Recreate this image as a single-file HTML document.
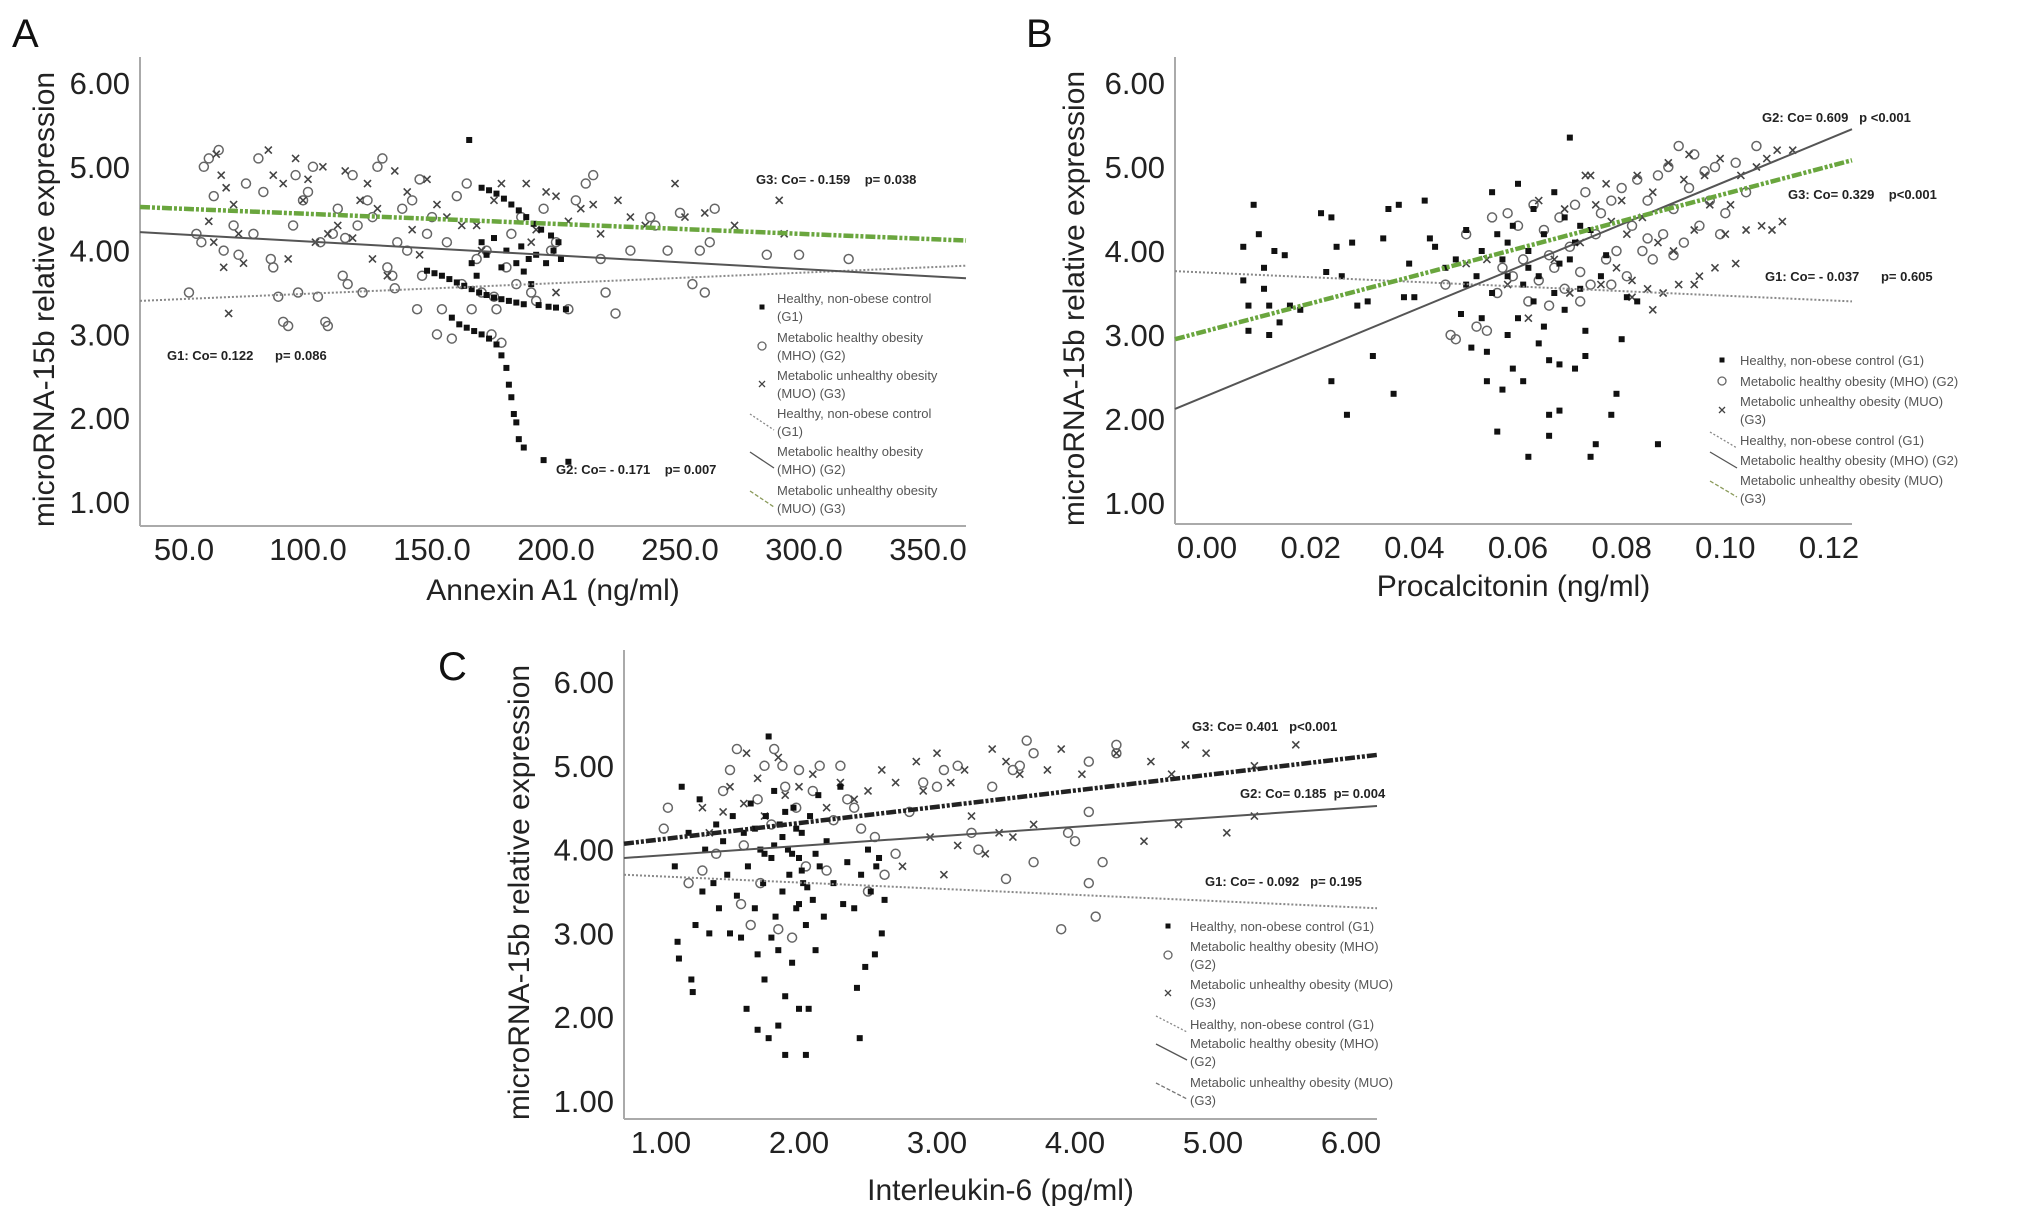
<!DOCTYPE html>
<html><head><meta charset="utf-8">
<style>
html,body{margin:0;padding:0;background:#fff;}
svg{display:block;font-family:"Liberation Sans",sans-serif;}
.tick{font-size:31px;fill:#222;}
.ttl{font-size:30px;fill:#222;}
.leg{font-size:13px;fill:#555;}
.ann{font-size:13px;font-weight:bold;fill:#222;font-family:"Liberation Sans Narrow","Liberation Sans",sans-serif;white-space:pre;}
.lab{font-size:40px;fill:#111;}
</style></head>
<body>
<svg id="fig" width="2032" height="1222" viewBox="0 0 2032 1222" xmlns="http://www.w3.org/2000/svg"></svg>
<script>
// ---------- Panel A data (Annexin A1) ----------
const aXTicks=[50,100,150,200,250,300,350];
const aXTickLabels=["50.0","100.0","150.0","200.0","250.0","300.0","350.0"];
const yTicks=[1,2,3,4,5,6];
const yTickLabels=["1.00","2.00","3.00","4.00","5.00","6.00"];
const aG1=[[165,5.32],[170,4.75],[173,4.72],[176,4.68],[179,4.62],[182,4.55],[185,4.48],[188,4.4],[191,4.32],[194,4.25],[198,4.18],[201,4.1],[148,3.76],[151,3.73],[154,3.7],[157,3.66],[160,3.62],[163,3.58],[166,3.54],[169,3.5],[172,3.47],[175,3.44],[178,3.42],[181,3.4],[184,3.38],[187,3.36],[158,3.2],[161,3.12],[164,3.08],[167,3.04],[170,3.0],[173,2.95],[176,2.88],[178,2.75],[180,2.6],[181,2.4],[182,2.25],[183,2.05],[184,1.95],[185,1.75],[187,1.65],[195,1.5],[205,1.48],[170,4.1],[172,3.95],[175,4.15],[178,3.8],[180,4.0],[184,3.85],[186,4.05],[189,3.9],[192,3.95],[196,3.85],[199,4.0],[202,3.9],[193,3.35],[197,3.33],[200,3.32],[204,3.3],[166,3.85],[168,3.7],[190,3.6],[187,3.75]];
const aG2=[[55,4.2],[57,4.1],[58,5.0],[60,5.1],[62,4.65],[64,5.2],[66,4.0],[52,3.5],[78,4.2],[80,5.1],[82,4.7],[85,3.9],[86,3.8],[88,3.45],[90,3.15],[92,3.1],[94,4.3],[96,3.5],[98,4.6],[100,4.7],[102,5.0],[104,3.45],[105,4.1],[107,3.15],[108,3.1],[110,4.2],[112,4.5],[114,3.7],[116,3.6],[118,4.9],[120,4.3],[122,3.5],[124,4.6],[126,4.4],[128,5.0],[130,5.1],[132,3.8],[134,3.7],[136,4.1],[138,4.5],[140,4.0],[142,4.6],[144,3.3],[146,3.7],[148,4.2],[150,4.4],[152,3.0],[154,3.3],[156,4.1],[158,2.95],[160,4.65],[162,3.6],[164,4.8],[166,3.3],[168,3.9],[170,3.5],[172,4.0],[174,3.0],[176,3.3],[178,2.9],[180,3.8],[182,4.2],[184,3.6],[186,4.4],[190,3.5],[192,3.4],[195,4.5],[198,4.0],[200,4.1],[205,3.3],[208,4.6],[212,4.8],[215,4.9],[218,3.9],[220,3.5],[224,3.25],[230,4.0],[238,4.4],[240,4.3],[245,4.0],[250,4.45],[255,3.6],[258,4.0],[260,3.5],[262,4.1],[264,4.5],[285,3.95],[298,3.95],[318,3.9],[70,4.3],[72,3.95],[75,4.8],[95,4.9],[115,4.15],[135,3.55],[145,4.85],[175,3.45]];
const aG3=[[60,4.35],[62,4.1],[63,5.15],[65,4.9],[66,3.8],[67,4.75],[68,3.25],[70,4.55],[72,4.2],[74,3.85],[84,5.2],[86,4.9],[90,4.8],[92,3.9],[95,5.1],[98,4.6],[100,4.85],[103,4.1],[106,5.0],[108,4.2],[112,4.3],[115,4.95],[118,4.15],[121,4.6],[124,4.8],[126,3.9],[128,4.5],[132,3.7],[135,4.95],[140,4.7],[142,4.25],[145,3.95],[148,4.85],[152,4.55],[156,4.4],[162,4.3],[168,4.3],[175,4.6],[178,4.8],[188,4.8],[192,4.25],[196,4.7],[200,4.65],[205,4.35],[210,4.5],[215,4.55],[218,4.2],[225,4.6],[230,4.4],[236,4.3],[248,4.8],[252,4.4],[260,4.45],[272,4.3],[290,4.6],[292,4.2],[170,4.0],[190,4.1],[200,3.5]];
// ---------- Panel B data (Procalcitonin) ----------
const bXTicks=[0,0.02,0.04,0.06,0.08,0.10,0.12];
const bXTickLabels=["0.00","0.02","0.04","0.06","0.08","0.10","0.12"];
const bG1=[[0.007,4.05],[0.007,3.65],[0.008,3.35],[0.008,3.05],[0.009,4.55],[0.010,4.2],[0.011,3.8],[0.011,3.55],[0.012,3.35],[0.012,3.0],[0.013,4.0],[0.014,3.15],[0.015,3.95],[0.016,3.35],[0.018,3.3],[0.022,4.45],[0.023,3.75],[0.024,4.4],[0.024,2.45],[0.025,4.05],[0.026,3.7],[0.027,2.05],[0.028,4.1],[0.029,3.35],[0.031,3.4],[0.032,2.75],[0.034,4.15],[0.035,4.5],[0.036,2.3],[0.037,4.55],[0.038,3.45],[0.039,3.85],[0.040,3.45],[0.042,4.6],[0.043,4.15],[0.044,4.05],[0.046,3.8],[0.048,3.9],[0.049,3.25],[0.050,4.25],[0.050,3.6],[0.051,2.85],[0.052,3.7],[0.053,3.2],[0.053,4.0],[0.054,2.8],[0.054,2.45],[0.055,4.7],[0.055,3.5],[0.056,1.85],[0.056,4.2],[0.057,3.9],[0.057,2.35],[0.058,3.0],[0.058,3.7],[0.059,2.6],[0.059,4.3],[0.060,4.8],[0.060,3.2],[0.061,2.45],[0.061,3.6],[0.062,1.55],[0.062,4.0],[0.063,3.4],[0.063,4.5],[0.064,2.9],[0.064,3.7],[0.065,4.2],[0.065,3.1],[0.066,2.7],[0.066,1.8],[0.066,2.05],[0.067,4.7],[0.067,3.5],[0.068,2.1],[0.068,2.65],[0.069,4.4],[0.069,3.3],[0.070,5.35],[0.070,3.9],[0.071,2.6],[0.071,4.1],[0.072,3.55],[0.073,3.05],[0.073,2.75],[0.074,1.55],[0.074,4.25],[0.075,1.7],[0.076,3.7],[0.077,3.95],[0.078,2.05],[0.079,2.3],[0.080,2.95],[0.081,3.45],[0.083,3.4],[0.087,1.7],[0.058,4.1],[0.062,3.8],[0.068,3.85],[0.072,4.3]];
const bG2=[[0.046,3.6],[0.047,3.0],[0.048,2.95],[0.050,4.2],[0.052,3.1],[0.054,3.05],[0.055,4.4],[0.056,3.5],[0.057,3.8],[0.058,4.45],[0.059,3.7],[0.060,4.3],[0.061,3.9],[0.062,3.4],[0.063,4.55],[0.064,3.65],[0.065,4.25],[0.066,3.35],[0.067,3.8],[0.068,4.4],[0.069,3.55],[0.070,4.05],[0.071,4.55],[0.072,3.75],[0.073,4.7],[0.074,3.6],[0.075,4.2],[0.076,4.45],[0.077,3.9],[0.078,4.6],[0.079,4.0],[0.080,4.75],[0.081,3.7],[0.082,4.3],[0.083,4.85],[0.084,4.0],[0.085,4.6],[0.086,3.9],[0.087,4.9],[0.088,4.2],[0.089,5.0],[0.090,4.5],[0.091,5.25],[0.092,4.1],[0.093,4.75],[0.094,5.15],[0.095,4.3],[0.096,4.95],[0.097,4.6],[0.098,5.0],[0.099,4.2],[0.100,4.45],[0.102,5.05],[0.104,4.7],[0.106,5.25],[0.090,3.95],[0.085,4.15],[0.078,3.6],[0.072,3.4],[0.066,3.95]];
const bG3=[[0.050,3.85],[0.054,3.9],[0.058,3.6],[0.062,3.2],[0.064,4.6],[0.067,3.9],[0.069,4.5],[0.070,3.5],[0.072,4.1],[0.073,4.9],[0.074,4.9],[0.075,4.55],[0.076,3.6],[0.077,4.8],[0.078,4.35],[0.079,3.8],[0.080,4.6],[0.081,4.2],[0.082,3.65],[0.083,4.9],[0.084,4.4],[0.085,3.55],[0.086,4.7],[0.087,4.1],[0.088,3.5],[0.089,5.05],[0.090,4.0],[0.091,3.6],[0.092,4.85],[0.093,5.15],[0.094,4.25],[0.095,3.7],[0.096,4.9],[0.097,4.55],[0.098,3.8],[0.099,5.1],[0.100,4.2],[0.101,4.55],[0.102,3.85],[0.103,4.9],[0.104,4.25],[0.106,5.0],[0.107,4.3],[0.108,5.1],[0.109,4.25],[0.110,5.2],[0.111,4.35],[0.113,5.2],[0.082,3.45],[0.086,3.3],[0.094,3.6]];
// ---------- Panel C data (Interleukin-6) ----------
const cXTicks=[1,2,3,4,5,6];
const cXTickLabels=["1.00","2.00","3.00","4.00","5.00","6.00"];
const cG1=[[1.1,3.8],[1.12,2.9],[1.13,2.7],[1.15,4.75],[1.2,4.2],[1.22,2.45],[1.23,2.3],[1.25,3.1],[1.28,4.6],[1.3,3.5],[1.32,4.0],[1.35,3.0],[1.38,3.6],[1.4,4.3],[1.42,3.3],[1.45,4.1],[1.48,3.7],[1.5,3.0],[1.52,4.4],[1.55,3.45],[1.58,2.95],[1.6,4.2],[1.62,2.1],[1.63,3.8],[1.65,4.55],[1.68,3.3],[1.7,1.85],[1.7,2.75],[1.72,4.0],[1.74,3.6],[1.75,2.45],[1.76,4.4],[1.78,5.35],[1.78,1.75],[1.8,3.9],[1.8,2.95],[1.82,4.7],[1.83,3.2],[1.85,1.9],[1.85,2.8],[1.86,4.3],[1.88,3.5],[1.9,1.55],[1.9,2.25],[1.92,4.0],[1.93,3.7],[1.95,2.65],[1.96,4.5],[1.98,3.3],[2.0,2.1],[2.0,3.9],[2.02,4.2],[2.03,3.6],[2.05,1.55],[2.05,3.1],[2.07,2.1],[2.08,4.4],[2.1,3.4],[2.12,2.8],[2.14,4.65],[2.15,3.8],[2.18,3.2],[2.2,4.1],[2.25,3.6],[2.3,4.75],[2.32,3.35],[2.35,3.85],[2.4,3.3],[2.42,2.35],[2.44,1.75],[2.45,3.7],[2.48,2.6],[2.5,4.0],[2.52,3.5],[2.55,2.75],[2.58,3.9],[2.6,3.0],[2.62,3.4],[2.56,3.8],[1.88,4.15],[1.95,3.95],[2.02,3.75],[1.82,4.05],[1.9,4.45],[1.98,4.25],[2.06,3.55],[1.75,3.95],[1.68,4.25],[2.12,3.95],[2.0,3.35]];
const cG2=[[1.02,4.25],[1.05,4.5],[1.2,3.6],[1.3,3.75],[1.45,4.7],[1.5,4.95],[1.55,5.2],[1.58,3.35],[1.6,4.05],[1.65,3.1],[1.7,4.6],[1.72,3.6],[1.75,5.0],[1.8,4.3],[1.82,5.2],[1.85,3.05],[1.88,5.0],[1.9,4.75],[1.95,2.95],[1.98,4.5],[2.0,4.95],[2.05,3.8],[2.1,4.7],[2.15,5.0],[2.2,3.75],[2.25,4.35],[2.3,5.0],[2.35,4.6],[2.45,4.25],[2.5,3.5],[2.55,4.15],[2.62,3.7],[2.7,3.95],[2.8,4.45],[2.9,4.8],[3.0,4.75],[3.05,4.95],[3.15,5.0],[3.25,4.2],[3.3,4.0],[3.4,4.75],[3.5,3.65],[3.55,4.95],[3.6,5.0],[3.7,3.85],[3.7,5.15],[3.9,3.05],[3.95,4.2],[4.1,4.45],[4.1,3.6],[4.15,3.2],[4.2,3.85],[4.3,5.25],[4.3,5.15],[4.1,5.05],[4.0,4.1],[3.65,5.3],[1.4,3.95],[2.4,4.5]];
const cG3=[[1.3,4.5],[1.35,4.2],[1.45,4.45],[1.5,4.75],[1.6,4.55],[1.62,5.15],[1.7,4.85],[1.75,4.4],[1.85,5.1],[1.9,4.65],[2.0,4.75],[2.1,4.9],[2.2,4.5],[2.3,4.8],[2.4,4.6],[2.5,4.7],[2.6,4.95],[2.7,4.8],[2.75,3.8],[2.85,5.05],[2.9,4.7],[2.95,4.15],[3.0,5.15],[3.05,3.7],[3.1,4.8],[3.15,4.05],[3.2,4.95],[3.25,4.4],[3.35,3.95],[3.4,5.2],[3.45,4.2],[3.5,5.05],[3.55,4.15],[3.6,4.9],[3.7,4.3],[3.8,4.95],[3.9,5.2],[4.05,4.9],[4.3,5.15],[4.5,4.1],[4.55,5.05],[4.7,4.9],[4.75,4.3],[4.8,5.25],[4.95,5.15],[5.1,4.2],[5.3,4.4],[5.3,5.0],[5.6,5.25]];
// regression line endpoints (value at axis ends) per panel: [G1 start,end],[G2],[G3]
const aFit=[[3.40,3.82],[4.22,3.67],[4.52,4.12]];
const bFit=[[3.76,3.40],[2.12,5.45],[2.95,5.08]];
const cFit=[[3.70,3.30],[3.90,4.52],[4.07,5.13]];

const NS="http://www.w3.org/2000/svg";
const svg=document.getElementById('fig');
function mk(tag,attrs,parent){const e=document.createElementNS(NS,tag);for(const k in attrs)e.setAttribute(k,attrs[k]);(parent||svg).appendChild(e);return e;}
function txt(s,attrs,parent){const e=mk('text',attrs,parent);e.textContent=s;return e;}

function panel(cfg){
  const g=mk('g',{});
  
  
  const X=v=>cfg.x0px+(v-cfg.x0v)*(cfg.x1px-cfg.x0px)/(cfg.x1v-cfg.x0v);
  const Y=v=>cfg.y1px-(v-1)*(cfg.y1px-cfg.y6px)/5;
  const xmin=cfg.x0v+(cfg.L-cfg.x0px)*(cfg.x1v-cfg.x0v)/(cfg.x1px-cfg.x0px);
  const xmax=cfg.x0v+(cfg.R-cfg.x0px)*(cfg.x1v-cfg.x0v)/(cfg.x1px-cfg.x0px);
  const ya=mk('line',{x1:cfg.L,y1:cfg.T,x2:cfg.L,y2:cfg.B,stroke:'#aaa','stroke-width':2},g);
  
  const xa=mk('line',{x1:cfg.L,y1:cfg.B,x2:cfg.R,y2:cfg.B,stroke:'#aaa','stroke-width':2},g);
  
  yTicks.forEach((v,i)=>{const t=txt(yTickLabels[i],{x:cfg.L-10,y:Y(v)+11,'text-anchor':'end',class:'tick'},g);
    });
  cfg.xt.forEach((v,i)=>{const t=txt(cfg.xtl[i],{x:X(v),y:cfg.B+34,'text-anchor':'middle',class:'tick'},g);
    });
  const xt=txt(cfg.xtitle,{x:(cfg.L+cfg.R)/2,y:cfg.xTitleY,'text-anchor':'middle',class:'ttl'},g);
  
  const yt=txt('microRNA-15b relative expression',{x:0,y:0,'text-anchor':'middle',class:'ttl',transform:`translate(${cfg.yTitleX},${(cfg.T+cfg.B)/2+8}) rotate(-90)`},g);
  
  const lb=txt(cfg.letter,{x:cfg.letterX,y:cfg.letterY,class:'lab'},g);
  
  cfg.g2.forEach(p=>{const c=mk('circle',{cx:X(p[0]),cy:Y(p[1]),r:4.5,fill:'none',stroke:'#666','stroke-width':1.5},g);
    });
  cfg.g3.forEach(p=>{const x=X(p[0]),y=Y(p[1]);const c=mk('path',{d:`M${x-3.5},${y-3.5}L${x+3.5},${y+3.5}M${x+3.5},${y-3.5}L${x-3.5},${y+3.5}`,stroke:'#444','stroke-width':1.6},g);
    });
  cfg.g1.forEach(p=>{const c=mk('rect',{x:X(p[0])-3,y:Y(p[1])-3,width:6,height:6,fill:'#111'},g);
    });
  const styles=[{stroke:'#888','stroke-width':2,'stroke-dasharray':'2,2'},{stroke:'#555','stroke-width':2},cfg.g3style];
  const names=['g1-fit-line','g2-fit-line','g3-fit-line'];
  cfg.fit.forEach((f,i)=>{const l=mk('line',Object.assign({x1:X(xmin),y1:Y(f[0]),x2:X(xmax),y2:Y(f[1])},styles[i]),g);
    });
  cfg.ann.forEach(a=>{const t=txt(a[0],{x:a[1],y:a[2],class:'ann','xml:space':'preserve'},g);
    });
  const lg=mk('g',{},g);
  
  const lstyles=[null,null,null,{stroke:'#888','stroke-dasharray':'2,2'},{stroke:'#555'},{stroke:cfg.legG3col,'stroke-dasharray':'4,2'}];
  cfg.leg.forEach(e=>{
    const mx=cfg.legMX,my=e.y[0]+(e.y.length>1?(e.y[1]-e.y[0])/2:0);
    if(e.k===0)mk('rect',{x:mx-2.5,y:my-2.5,width:5,height:5,fill:'#111'},lg);
    else if(e.k===1)mk('circle',{cx:mx,cy:my,r:4,fill:'none',stroke:'#666','stroke-width':1.3},lg);
    else if(e.k===2)mk('path',{d:`M${mx-3},${my-3}L${mx+3},${my+3}M${mx+3},${my-3}L${mx-3},${my+3}`,stroke:'#444','stroke-width':1.3},lg);
    else mk('line',Object.assign({x1:mx-12,y1:my-8,x2:cfg.legTX-3,y2:my+8,'stroke-width':1.3},lstyles[e.k]),lg);
    e.t.forEach((s,j)=>{const t=txt(s,{x:cfg.legTX,y:e.y[j]+5,class:'leg'},lg);
      });
  });
}

const greenStyle={stroke:'#6aa63e','stroke-width':4.5,'stroke-dasharray':'10,2,3,2,3,2'};
panel({name:'panel-a',letter:'A',letterX:12,letterY:47,L:140,R:966,T:57,B:526,x0v:50,x1v:350,x0px:184,x1px:928,y6px:83,y1px:502,
  xt:aXTicks,xtl:aXTickLabels,xtitle:'Annexin A1 (ng/ml)',xTitleY:600,yTitleX:54,g1:aG1,g2:aG2,g3:aG3,fit:aFit,g3style:greenStyle,legG3col:'#8a9a5a',
  ann:[['G3: Co= - 0.159    p= 0.038',756,184],['G1: Co= 0.122      p= 0.086',167,360],['G2: Co= - 0.171    p= 0.007',556,474]],
  legMX:762,legTX:777,leg:[
    {k:0,y:[298,316],t:['Healthy, non-obese control','(G1)']},
    {k:1,y:[337,355],t:['Metabolic healthy obesity','(MHO) (G2)']},
    {k:2,y:[375,393],t:['Metabolic unhealthy obesity','(MUO) (G3)']},
    {k:3,y:[413,431],t:['Healthy, non-obese control','(G1)']},
    {k:4,y:[451,469],t:['Metabolic healthy obesity','(MHO) (G2)']},
    {k:5,y:[490,508],t:['Metabolic unhealthy obesity','(MUO) (G3)']}]});
panel({name:'panel-b',letter:'B',letterX:1026,letterY:47,L:1175,R:1852,T:57,B:524,x0v:0,x1v:0.12,x0px:1207,x1px:1829,y6px:83,y1px:503,
  xt:bXTicks,xtl:bXTickLabels,xtitle:'Procalcitonin (ng/ml)',xTitleY:596,yTitleX:1084,g1:bG1,g2:bG2,g3:bG3,fit:bFit,g3style:greenStyle,legG3col:'#8a9a5a',
  ann:[['G2: Co= 0.609   p <0.001',1762,122],['G3: Co= 0.329    p<0.001',1788,199],['G1: Co= - 0.037      p= 0.605',1765,281]],
  legMX:1722,legTX:1740,leg:[
    {k:0,y:[360],t:['Healthy, non-obese control (G1)']},
    {k:1,y:[381],t:['Metabolic healthy obesity (MHO) (G2)']},
    {k:2,y:[401,419],t:['Metabolic unhealthy obesity (MUO)','(G3)']},
    {k:3,y:[440],t:['Healthy, non-obese control (G1)']},
    {k:4,y:[460],t:['Metabolic healthy obesity (MHO) (G2)']},
    {k:5,y:[480,498],t:['Metabolic unhealthy obesity (MUO)','(G3)']}]});
panel({name:'panel-c',letter:'C',letterX:438,letterY:680,L:624,R:1377,T:650,B:1119,x0v:1,x1v:6,x0px:661,x1px:1351,y6px:682,y1px:1101,
  xt:cXTicks,xtl:cXTickLabels,xtitle:'Interleukin-6 (pg/ml)',xTitleY:1200,yTitleX:529,g1:cG1,g2:cG2,g3:cG3,fit:cFit,
  g3style:{stroke:'#222','stroke-width':4.5,'stroke-dasharray':'10,2,3,2,3,2'},legG3col:'#777',
  ann:[['G3: Co= 0.401   p<0.001',1192,731],['G2: Co= 0.185  p= 0.004',1240,798],['G1: Co= - 0.092   p= 0.195',1205,886]],
  legMX:1168,legTX:1190,leg:[
    {k:0,y:[926],t:['Healthy, non-obese control (G1)']},
    {k:1,y:[946,964],t:['Metabolic healthy obesity (MHO)','(G2)']},
    {k:2,y:[984,1002],t:['Metabolic unhealthy obesity (MUO)','(G3)']},
    {k:3,y:[1024],t:['Healthy, non-obese control (G1)']},
    {k:4,y:[1043,1061],t:['Metabolic healthy obesity (MHO)','(G2)']},
    {k:5,y:[1082,1100],t:['Metabolic unhealthy obesity (MUO)','(G3)']}]});
</script>
</body></html>
